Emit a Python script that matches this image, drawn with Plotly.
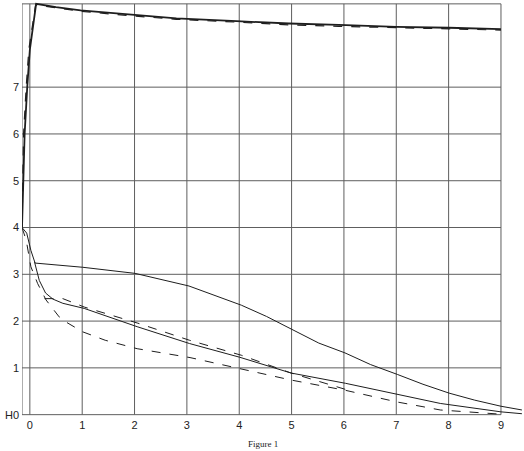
import plotly.graph_objects as go

# values
top_x = [-0.15, -0.13, -0.10, -0.05, 0.00, 0.12, 0.50, 0.97, 2.00, 2.80, 3.95, 4.95, 5.90, 7.00, 8.00, 9.00]
top_y = [4.00, 5.00, 6.00, 7.00, 7.80, 8.78, 8.71, 8.64, 8.54, 8.47, 8.41, 8.36, 8.33, 8.29, 8.27, 8.24]
top_dash_x = [-0.15, -0.14, -0.12, -0.07, -0.02, 0.11, 0.50, 0.97, 2.00, 2.80, 3.95, 4.95, 5.90, 7.00, 8.00, 9.00]
top_dash_y = [4.00, 5.00, 6.00, 7.00, 7.80, 8.76, 8.69, 8.62, 8.52, 8.45, 8.39, 8.33, 8.30, 8.27, 8.25, 8.22]

# upper solid curve (flat near 3.2)
a_x = [-0.15, -0.06, 0.02, 0.09, 0.10, 1.01, 2.01, 3.04, 3.66, 4.04, 4.52, 5.03, 5.52, 6.02, 6.51, 7.02, 7.51, 8.01, 8.50, 9.00, 9.40]
a_y = [4.00, 3.88, 3.51, 3.27, 3.24, 3.15, 3.02, 2.75, 2.49, 2.34, 2.10, 1.81, 1.53, 1.32, 1.07, 0.86, 0.65, 0.46, 0.31, 0.18, 0.10]

# middle solid curve
c_x = [0.09, 0.18, 0.30, 0.44, 0.63, 1.04, 2.05, 3.05, 4.00, 4.99, 6.03, 7.02, 7.84, 9.00, 9.40]
c_y = [3.26, 2.87, 2.60, 2.47, 2.38, 2.27, 1.88, 1.52, 1.23, 0.89, 0.67, 0.44, 0.24, 0.06, 0.02]

# upper dashed curve
b_x = [0.28, 0.63, 1.04, 2.05, 3.05, 4.04, 4.99, 6.03]
b_y = [2.48, 2.48, 2.30, 1.96, 1.59, 1.27, 0.89, 0.54]

# lower dashed curve
d_x = [-0.15, -0.07, 0.02, 0.15, 0.31, 0.56, 0.69, 1.01, 1.44, 2.05, 3.06, 4.00, 4.99, 6.03, 6.57, 7.02, 7.51, 7.84, 9.00]
d_y = [4.00, 3.73, 3.16, 2.80, 2.45, 2.09, 1.98, 1.77, 1.59, 1.41, 1.22, 0.99, 0.74, 0.52, 0.38, 0.27, 0.17, 0.10, 0.01]

x_grid = [0, 1, 2, 3, 4, 5, 6, 7, 8, 9]
y_grid = [0, 1, 2, 3, 4, 5, 6, 7]
y_labels = ["H0", "1", "2", "3", "4", "5", "6", "7"]
x_labels = ["0", "1", "2", "3", "4", "5", "6", "7", "8", "9"]
y_axis_pos = -0.15
y_top = 8.78

INK = "#1e1e1e"
GRID = "#5e5e5e"

fig = go.Figure()

# grid drawn as shapes so the lines stop at 9 like the paper
shapes = []
for gx in x_grid:
    shapes.append(dict(type="line", x0=gx, x1=gx, y0=0, y1=y_top,
                       line=dict(color=GRID, width=1), layer="below"))
for gy in y_grid + [y_top]:
    shapes.append(dict(type="line", x0=y_axis_pos, x1=9, y0=gy, y1=gy,
                       line=dict(color=GRID, width=1), layer="below"))
shapes.append(dict(type="line", x0=y_axis_pos, x1=y_axis_pos, y0=0, y1=y_top,
                   line=dict(color=GRID, width=1), layer="below"))

fig.add_trace(go.Scatter(x=top_x, y=top_y, mode="lines",
                         line=dict(color=INK, width=1.8)))
fig.add_trace(go.Scatter(x=top_dash_x, y=top_dash_y, mode="lines",
                         line=dict(color=INK, width=1.2, dash="dash")))
fig.add_trace(go.Scatter(x=a_x, y=a_y, mode="lines",
                         line=dict(color=INK, width=1)))
fig.add_trace(go.Scatter(x=c_x, y=c_y, mode="lines",
                         line=dict(color=INK, width=1)))
fig.add_trace(go.Scatter(x=b_x, y=b_y, mode="lines",
                         line=dict(color=INK, width=1, dash="dash")))
fig.add_trace(go.Scatter(x=d_x, y=d_y, mode="lines",
                         line=dict(color=INK, width=1, dash="dash")))

fig.update_xaxes(
    range=[-0.15, 9.44],
    showgrid=False, zeroline=False, showline=False,
    tickmode="array", tickvals=x_grid, ticktext=x_labels,
    ticks="", ticklabelstandoff=0,
    tickfont=dict(family="Liberation Sans, Arial, sans-serif", size=11, color="#222"),
)
fig.update_yaxes(
    range=[-0.05, 8.82],
    showgrid=False, zeroline=False, showline=False,
    tickmode="array", tickvals=y_grid, ticktext=y_labels,
    ticks="", ticklabelstandoff=2,
    tickfont=dict(family="Liberation Sans, Arial, sans-serif", size=11, color="#222"),
)

fig.add_annotation(
    text="Figure 1", xref="paper", yref="paper", x=0.48, y=-0.065,
    showarrow=False, xanchor="center", yanchor="middle",
    font=dict(family="Liberation Serif, DejaVu Serif, serif", size=9, color="#222"),
)

fig.update_layout(
    width=524, height=451,
    margin=dict(l=22, r=0, t=2, b=34),
    showlegend=False,
    shapes=shapes,
    plot_bgcolor="white",
    paper_bgcolor="white",
)

# drop the default page margin so the figure sits at the window's corner
fig.write_html("out.html", config={"displayModeBar": False},
               post_script="document.body.style.margin='0';")
